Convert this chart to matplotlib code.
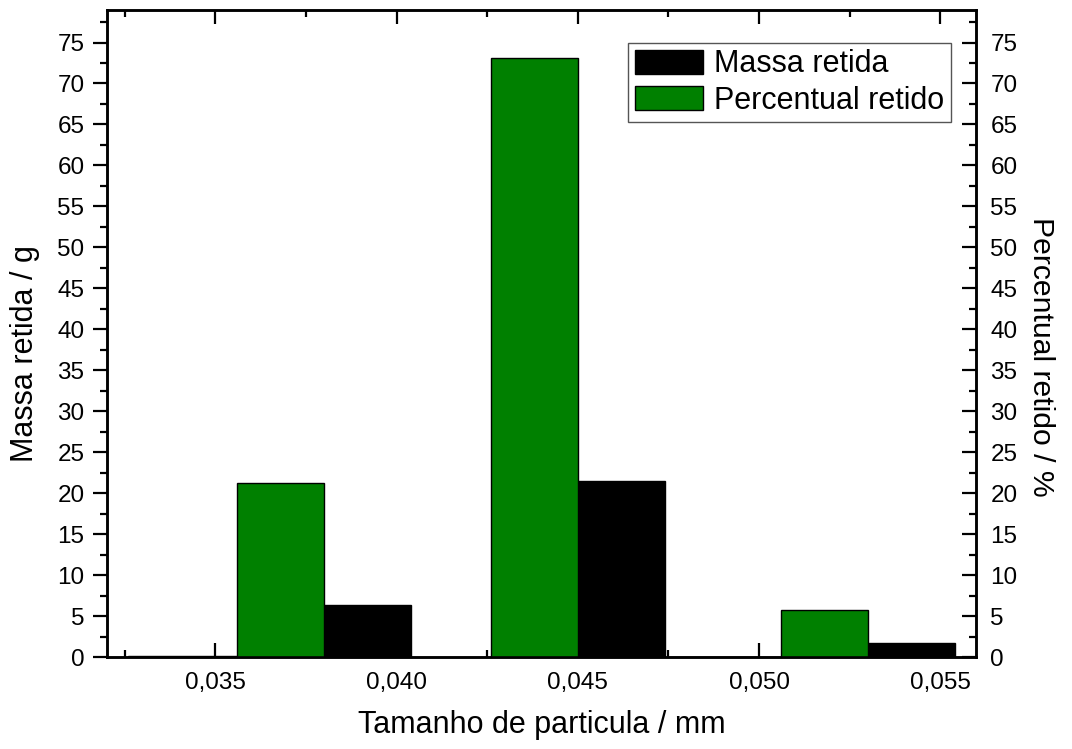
import matplotlib
matplotlib.use("Agg")
from matplotlib import pyplot as plt
from matplotlib.ticker import MultipleLocator, FuncFormatter
from matplotlib.patches import Patch

plt.rcParams['font.family'] = ['Liberation Sans', 'DejaVu Sans']

# abertura das peneiras (mm)
tamanho = [0.038, 0.045, 0.053]
massa_retida = [6.4, 21.5, 1.75]          # g
percentual_retido = [21.3, 73.1, 5.7]     # %
largura = 0.0024

# colunas de fundo (inicio, fim, massa)
fundo_ini = [0.03258, 0.04746]
fundo_fim = [0.0356, 0.05058]
fundo_massa = [0.15, 0.0]

verde = '#008000'


def virgula(v, pos):
    return f'{v:.3f}'.replace('.', ',')


fig = plt.figure(figsize=(10.72, 7.49), dpi=100)
ax = fig.add_axes([0.0995, 0.1228, 0.8114, 0.8642])
ax2 = ax.twinx()

ax.bar(fundo_ini, fundo_massa, width=[f - i for i, f in zip(fundo_ini, fundo_fim)],
       align='edge', color='black', edgecolor='black', linewidth=1)
ax.bar(tamanho, massa_retida, width=largura, align='edge',
       color='black', edgecolor='black', linewidth=1)
ax2.bar(tamanho, percentual_retido, width=-largura, align='edge',
        color=verde, edgecolor='black', linewidth=1)

for a in (ax, ax2):
    a.set_xlim(0.032, 0.056)
    a.set_ylim(0, 79)
    a.yaxis.set_major_locator(MultipleLocator(5))
    a.yaxis.set_minor_locator(MultipleLocator(2.5))
    for s in a.spines.values():
        s.set_linewidth(1.8)

ax.xaxis.set_major_locator(MultipleLocator(0.005))
ax.xaxis.set_minor_locator(MultipleLocator(0.0025))
ax.xaxis.set_major_formatter(FuncFormatter(virgula))

ax.tick_params(axis='x', which='both', direction='in', top=True, labelsize=17.5, pad=11)
ax.tick_params(axis='x', which='major', length=10, width=1.6)
ax.tick_params(axis='x', which='minor', length=5, width=1.6)
ax.tick_params(axis='y', which='both', direction='out', labelsize=17.5, pad=6)
ax.tick_params(axis='y', which='major', length=10, width=1.6)
ax.tick_params(axis='y', which='minor', length=5, width=1.6)
ax2.tick_params(axis='y', which='both', direction='in', labelsize=17.5, pad=10)
ax2.tick_params(axis='y', which='major', length=10, width=1.6)
ax2.tick_params(axis='y', which='minor', length=5, width=1.6)

ax.set_xlabel('Tamanho de particula / mm', fontsize=22, labelpad=11)
ax.set_ylabel('Massa retida / g', fontsize=22, va='center')
ax.yaxis.set_label_coords(-0.094, 0.469)
ax2.set_ylabel('Percentual retido / %', fontsize=21.7, rotation=270, va='center')
ax2.yaxis.set_label_coords(1.074, 0.464)

handles = [Patch(facecolor='black', edgecolor='black', label='Massa retida'),
           Patch(facecolor=verde, edgecolor='black', label='Percentual retido')]
leg = ax2.legend(handles=handles, loc='upper right', bbox_to_anchor=(0.9707, 0.949),
                 borderaxespad=0, fontsize=22, fancybox=False, framealpha=1,
                 handlelength=2.25, handleheight=0.8, handletextpad=0.35,
                 labelspacing=0.2, borderpad=0.22)
leg.get_frame().set_edgecolor('#555555')
leg.get_frame().set_linewidth(1)

fig.savefig('out.png', dpi=100)
